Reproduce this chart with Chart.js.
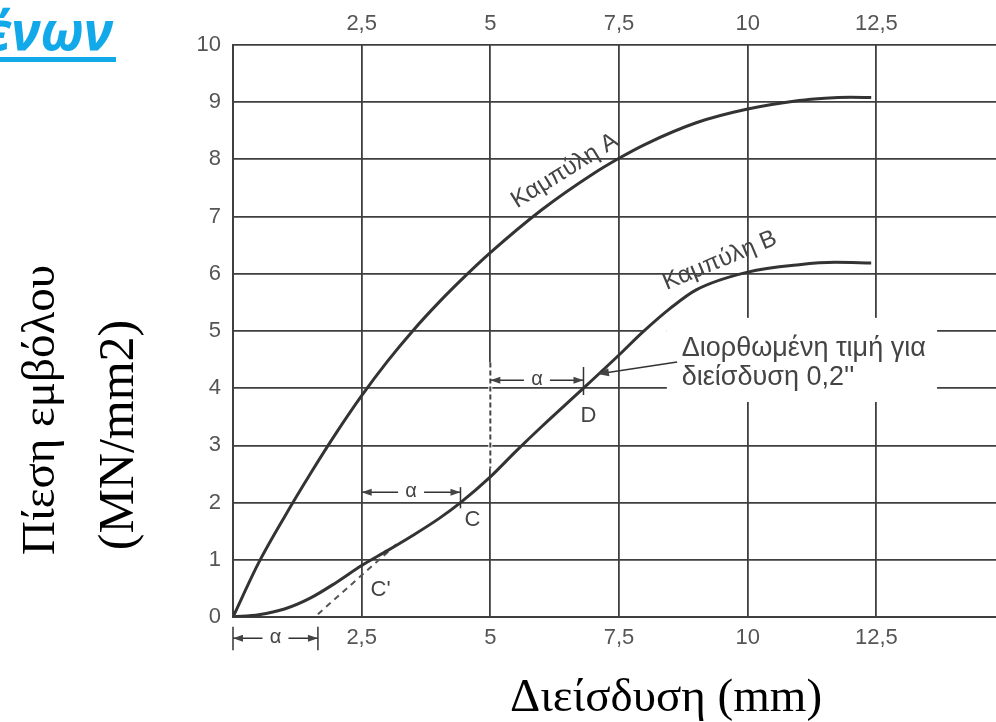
<!DOCTYPE html>
<html><head><meta charset="utf-8">
<script src="https://cdn.jsdelivr.net/npm/chart.js@4.4.1/dist/chart.umd.min.js"></script>
<style>
html,body{margin:0;padding:0;background:#fff;overflow:hidden;width:996px;height:722px;}
#wrap{position:absolute;left:0;top:0;width:1020px;height:722px;}
</style></head><body>
<div id="wrap"><canvas id="c" width="1020" height="722"></canvas></div>
<script>
// ---- data ----
const xTickValues = [0, 2.5, 5, 7.5, 10, 12.5, 15];
const curveA_x = [0, 0.5, 1, 1.5, 2, 2.5, 3, 3.5, 4, 4.5, 5, 6, 7, 7.5, 8, 9, 10, 11, 11.5, 12, 12.4];
const curveA_y = [0, 0.95, 1.75, 2.5, 3.21, 3.87, 4.47, 5.01, 5.5, 5.95, 6.37, 7.12, 7.75, 8.02, 8.26, 8.64, 8.88, 9.03, 9.07, 9.085, 9.08];
const curveB_x = [0, 0.5, 1, 1.5, 2, 2.5, 3, 3.5, 4, 4.42, 5, 5.5, 6, 6.81, 7.5, 7.96, 8.5, 9, 10, 11, 11.7, 12.4];
const curveB_y = [0, 0.04, 0.14, 0.33, 0.6, 0.9, 1.16, 1.43, 1.72, 2.0, 2.45, 2.9, 3.33, 4.0, 4.58, 4.98, 5.4, 5.72, 6.03, 6.16, 6.2, 6.19];
const tangent_x = [1.65, 3.25];
const tangent_y = [0.05, 1.33];
const dashV_x = [5, 5];
const dashV_y = [4.45, 2.6];
const xLabel = 'Διείσδυση (mm)';
const yLabel1 = 'Πίεση εμβόλου';
const yLabel2 = '(MN/mm2)';
const headerText = 'ένων';
const curveALabel = 'Καμπύλη A';
const curveBLabel = 'Καμπύλη B';
const noteLines = ['Διορθωμένη τιμή για', 'διείσδυση 0,2\'\''];
// annotation anchors in data units
const pointC = [4.42, 2.0], pointD = [6.81, 4.0], pointC1 = [2.5, 0.9];

const pts = (xs, ys) => xs.map((x, i) => ({x, y: ys[i]}));
const fmt = v => String(v).replace('.', ',');
const TICK_FONT = {family: "'Liberation Sans',Arial,sans-serif", size: 22};
const TICK_COLOR = '#555';
const GRID = '#3f3f3f';
const SANS = "'Liberation Sans',Arial,sans-serif";

const annot = {
  id: 'annot',
  beforeDatasetsDraw(chart) {
    const {ctx} = chart, X = chart.scales.x, Y = chart.scales.y;
    ctx.save();
    ctx.fillStyle = '#fff';
    const r = (x1, y1, x2, y2) => {
      const a = X.getPixelForValue(x1), b = Y.getPixelForValue(y1);
      const c = X.getPixelForValue(x2), d = Y.getPixelForValue(y2);
      ctx.fillRect(a, d, c - a, b - d);
    };
    r(8.43, 3.76, 13.68, 5.23);
    r(8.0, 4.95, 8.43, 5.23);
    // gap in the x=5 gridline where the dashed line is
    const gx = X.getPixelForValue(dashV_x[0]);
    ctx.fillRect(gx - 2, Y.getPixelForValue(dashV_y[0]), 4, Y.getPixelForValue(dashV_y[1]) - Y.getPixelForValue(dashV_y[0]));
    ctx.restore();
  },
  afterDatasetsDraw(chart) {
    const {ctx} = chart, X = chart.scales.x, Y = chart.scales.y;
    const px = v => X.getPixelForValue(v), py = v => Y.getPixelForValue(v);
    ctx.save();
    ctx.strokeStyle = '#333'; ctx.fillStyle = '#444';
    ctx.lineWidth = 1.5;
    const head = (x, y, dir) => {
      ctx.beginPath();
      ctx.moveTo(x, y);
      ctx.lineTo(x - dir * 10, y - 3.5);
      ctx.lineTo(x - dir * 10, y + 3.5);
      ctx.closePath(); ctx.fill();
    };
    const span = (x1, x2, y, tick) => {
      const a = px(x1), b = px(x2), yy = py(y), m = (a + b) / 2;
      ctx.beginPath(); ctx.moveTo(a, yy); ctx.lineTo(m - 13, yy);
      ctx.moveTo(m + 13, yy); ctx.lineTo(b, yy); ctx.stroke();
      head(a, yy, -1); head(b, yy, 1);
      ctx.font = "20px " + SANS;
      ctx.textAlign = 'center'; ctx.textBaseline = 'middle';
      ctx.fillText('α', m, yy - 1);
      tick.forEach(t => {
        ctx.beginPath(); ctx.moveTo(px(t[0]), py(t[1])); ctx.lineTo(px(t[0]), py(t[2])); ctx.stroke();
      });
    };
    span(0, 1.65, -0.37, [[0, -0.17, -0.58], [1.65, -0.17, -0.58]]);
    span(2.5, pointC[0], 2.18, [[pointC[0], 1.9, 2.27]]);
    span(5, pointD[0], 4.14, [[pointD[0], 3.88, 4.37]]);

    // point labels
    ctx.fillStyle = '#444';
    ctx.font = "22px " + SANS;
    ctx.textAlign = 'center'; ctx.textBaseline = 'middle';
    ctx.fillText('C', px(pointC[0]) + 12, py(pointC[1]) + 17);
    ctx.fillText('D', px(pointD[0]) + 5, py(pointD[1]) + 28);
    ctx.fillText("C'", px(pointC1[0]) + 19, py(pointC1[1]) + 24);

    // rotated curve labels
    const rot = (txt, x, y, ang) => {
      ctx.save(); ctx.translate(px(x), py(y)); ctx.rotate(ang * Math.PI / 180);
      ctx.fillText(txt, 0, 0); ctx.restore();
    };
    ctx.font = "24px " + SANS;
    rot(curveALabel, 6.45, 7.8, -31.8);
    rot(curveBLabel, 9.46, 6.23, -22.6);

    // note text + pointer
    ctx.font = "27px " + SANS;
    ctx.textAlign = 'left';
    ctx.fillText(noteLines[0], px(8.72), py(4.7));
    ctx.fillText(noteLines[1], px(8.72), py(4.18));
    ctx.beginPath(); ctx.moveTo(px(8.63), py(4.46)); ctx.lineTo(px(7.09), py(4.25)); ctx.stroke();
    const ax = px(7.09), ay = py(4.25), ang = Math.atan2(py(4.25) - py(4.46), px(7.09) - px(8.63));
    ctx.save(); ctx.translate(ax, ay); ctx.rotate(ang);
    ctx.beginPath(); ctx.moveTo(0, 0); ctx.lineTo(-11, -4); ctx.lineTo(-11, 4); ctx.closePath(); ctx.fill();
    ctx.restore();
    ctx.restore();
  },
  afterDraw(chart) {
    const {ctx} = chart;
    ctx.save();
    // header fragment
    ctx.fillStyle = '#12a9ea';
    ctx.font = "italic bold 53px 'Open Sans',sans-serif";
    ctx.textAlign = 'right'; ctx.textBaseline = 'alphabetic';
    ctx.fillText(headerText, 113, 50);
    ctx.fillRect(0, 57, 116, 5);
    // axis titles
    ctx.fillStyle = '#000';
    ctx.font = "47px 'Liberation Serif','Times New Roman',serif";
    ctx.textAlign = 'center'; ctx.textBaseline = 'middle';
    ctx.fillText(xLabel, 666, 699);
    ctx.save(); ctx.translate(42, 410); ctx.rotate(-Math.PI / 2); ctx.fillText(yLabel1, 0, 0); ctx.restore();
    ctx.font = "50px 'Liberation Serif','Times New Roman',serif";
    ctx.save(); ctx.translate(120, 435); ctx.rotate(-Math.PI / 2); ctx.fillText(yLabel2, 0, 0); ctx.restore();
    ctx.restore();
  }
};

const lineDs = (xs, ys, extra) => Object.assign({
  data: pts(xs, ys), borderColor: '#333', borderWidth: 3, pointRadius: 0,
  fill: false, cubicInterpolationMode: 'monotone'
}, extra || {});

new Chart(document.getElementById('c'), {
  type: 'line',
  data: {
    datasets: [
      lineDs(curveA_x, curveA_y),
      lineDs(curveB_x, curveB_y),
      lineDs(tangent_x, tangent_y, {borderWidth: 2, borderColor: '#555', borderDash: [6, 5], cubicInterpolationMode: 'default', tension: 0}),
      lineDs(dashV_x, dashV_y, {borderWidth: 2, borderColor: '#444', borderDash: [5, 3], cubicInterpolationMode: 'default', tension: 0})
    ]
  },
  options: {
    responsive: false, animation: false,
    layout: {padding: {left: 0, right: 15, top: 0, bottom: 0}},
    plugins: {legend: {display: false}, tooltip: {enabled: false}},
    scales: {
      x: {
        type: 'linear', position: 'bottom', min: 0, max: 15,
        afterBuildTicks: s => { s.ticks = xTickValues.map(v => ({value: v})); },
        afterFit: s => { s.height = 105; },
        ticks: {
          callback: v => (v === 0 || v === 15) ? '' : fmt(v),
          font: TICK_FONT, color: TICK_COLOR, padding: 8, maxRotation: 0, autoSkip: false
        },
        grid: {color: GRID, lineWidth: 1.8, drawTicks: false},
        border: {color: GRID, width: 2}
      },
      x2: {
        type: 'linear', position: 'top', min: 0, max: 15,
        afterBuildTicks: s => { s.ticks = xTickValues.map(v => ({value: v})); },
        afterFit: s => { s.height = 45; },
        ticks: {
          callback: v => (v === 0 || v === 15) ? '' : fmt(v),
          font: TICK_FONT, color: TICK_COLOR, padding: 8, maxRotation: 0, autoSkip: false
        },
        grid: {display: false, drawTicks: false},
        border: {display: false}
      },
      y: {
        min: 0, max: 10,
        afterFit: s => { s.width = 233; },
        ticks: {stepSize: 1, font: TICK_FONT, color: TICK_COLOR, padding: 12},
        grid: {color: GRID, lineWidth: 1.8, drawTicks: false},
        border: {color: GRID, width: 2}
      }
    }
  },
  plugins: [annot]
});
</script>
</body></html>
